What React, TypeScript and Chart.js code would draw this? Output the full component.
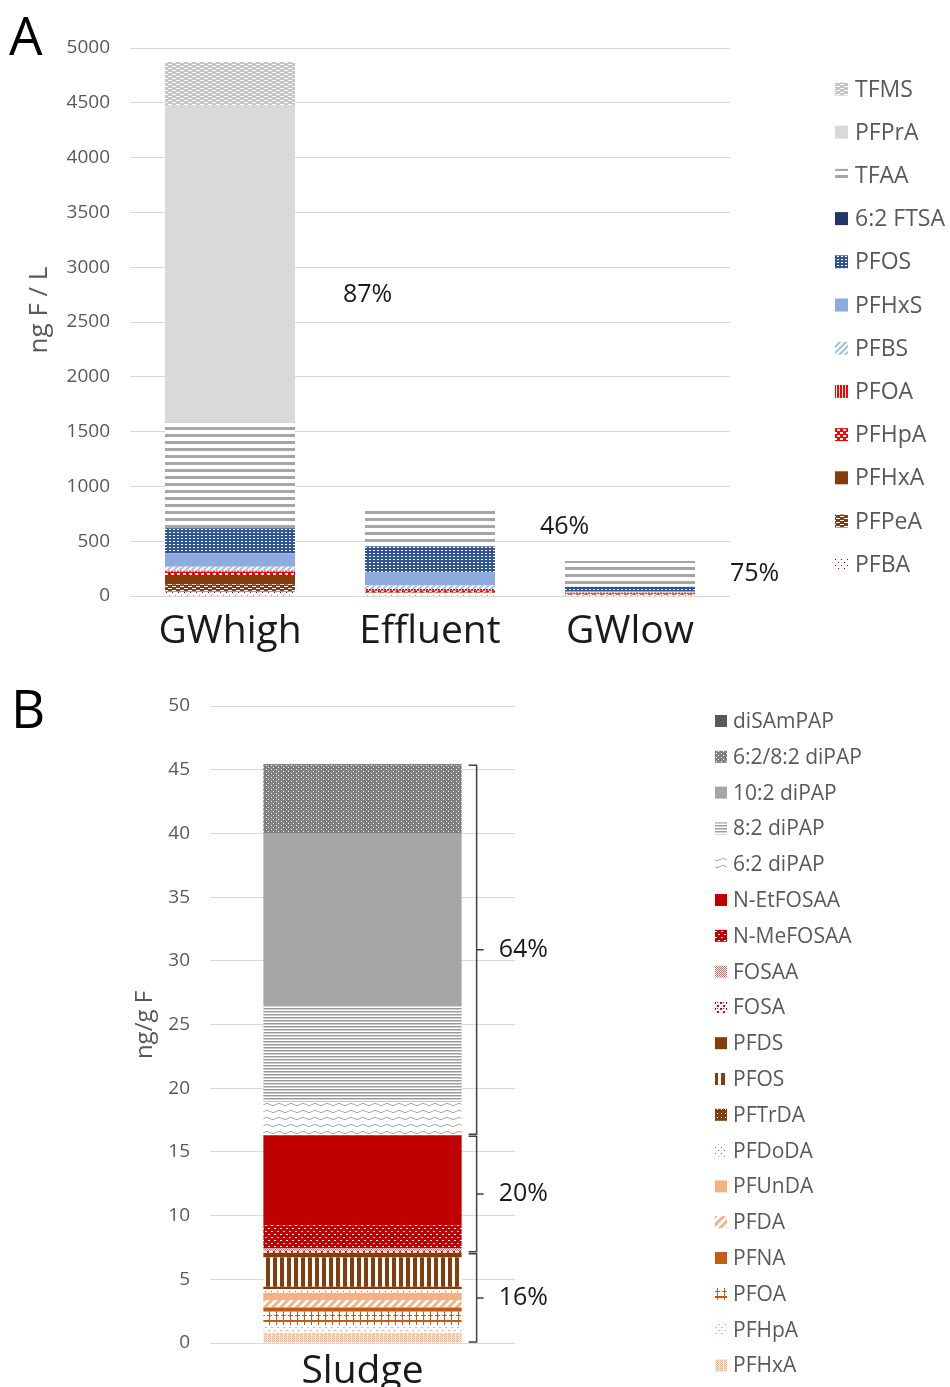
import React, { useEffect, useRef } from "react";
import { Chart, registerables } from "chart.js";
Chart.register(...registerables);

const FONT = "'Open Sans', sans-serif";
const TEXT_GRAY = "#595959";
Chart.defaults.font.family = FONT;

// ---------------- Panel A data (stack order bottom -> top) ----------------
const categoriesA = ["GWhigh", "Effluent", "GWlow"];
const compoundsA = ["PFBA", "PFPeA", "PFHxA", "PFHpA", "PFOA", "PFBS", "PFHxS", "PFOS", "6:2 FTSA", "TFAA", "PFPrA", "TFMS"];
const gwHigh = [39, 67, 85, 30, 10, 36, 122, 228, 3, 961, 2900, 392];
const effluent = [25, 5, 5, 15, 15, 30, 119, 237, 2, 359, 0, 0];
const gwLow = [10, 3, 3, 5, 8, 5, 6, 45, 0, 234, 0, 0];
const ultraShortA = ["TFAA", "PFPrA", "TFMS"];
const shareLabelsA = ["87%", "46%", "75%"];
const yMaxA = 5000;
const yStepA = 500;
const yTitleA = "ng F / L";

// ---------------- Panel B data (stack order bottom -> top) ----------------
const categoriesB = ["Sludge"];
const compoundsB = ["PFHxA", "PFHpA", "PFOA", "PFNA", "PFDA", "PFUnDA", "PFDoDA", "PFTrDA", "PFOS", "PFDS", "FOSA", "FOSAA", "N-MeFOSAA", "N-EtFOSAA", "6:2 diPAP", "8:2 diPAP", "10:2 diPAP", "6:2/8:2 diPAP", "diSAmPAP"];
const sludge = [0.8, 0.6, 1.05, 0.34, 0.58, 0.58, 0.26, 0.2, 2.3, 0.37, 0.15, 0.19, 1.83, 7.06, 2.62, 7.51, 13.6, 5.31, 0.08];
const groupSizesB = [10, 4, 5];
const groupLabelsB = ["16%", "20%", "64%"];
const yMaxB = 50;
const yStepB = 5;
const yTitleB = "ng/g F";

// ---------------- pattern helpers ----------------
type Fill = string | CanvasPattern;
function tile(w: number, h: number, bg: string | null, draw: (c: CanvasRenderingContext2D) => void): CanvasPattern {
  const cv = document.createElement("canvas");
  cv.width = w;
  cv.height = h;
  const c = cv.getContext("2d")!;
  if (bg) {
    c.fillStyle = bg;
    c.fillRect(0, 0, w, h);
  }
  draw(c);
  return c.createPattern(cv, "repeat")!;
}
const rects = (color: string, list: number[][]) => (c: CanvasRenderingContext2D) => {
  c.fillStyle = color;
  list.forEach((r) => c.fillRect(r[0], r[1], r[2], r[3]));
};
const diag = (color: string, s: number, lw: number) => (c: CanvasRenderingContext2D) => {
  c.strokeStyle = color;
  c.lineWidth = lw;
  c.beginPath();
  c.moveTo(0, s);
  c.lineTo(s, 0);
  c.moveTo(-2, 2);
  c.lineTo(2, -2);
  c.moveTo(s - 2, s + 2);
  c.lineTo(s + 2, s - 2);
  c.stroke();
};
const wave = (color: string) => (c: CanvasRenderingContext2D) => {
  c.strokeStyle = color;
  c.lineWidth = 1;
  c.beginPath();
  c.moveTo(0, 3.5);
  c.quadraticCurveTo(3, 1, 6, 3.5);
  c.quadraticCurveTo(9, 6, 12, 3.5);
  c.stroke();
};

function fillsA(): Record<string, Fill> {
  return {
    TFMS: tile(8, 4, "#c4c4c4", rects("#ffffff", [[0, 0, 4, 1], [4, 2, 4, 1]])),
    PFPrA: "#d9d9d9",
    TFAA: tile(4, 7, "#ffffff", rects("#a6a6a6", [[0, 0, 4, 3]])),
    "6:2 FTSA": "#1f3864",
    PFOS: tile(4, 3, "#2f5597", rects("#ffffff", [[1, 1, 2, 1]])),
    PFHxS: "#8faadc",
    PFBS: tile(6, 6, "#ffffff", diag("#9dc3e6", 6, 2)),
    PFOA: tile(3, 4, "#ffffff", rects("#ff0000", [[0, 0, 2, 4]])),
    PFHpA: tile(6, 6, "#ff0000", rects("#ffffff", [[0, 0, 3, 2], [3, 3, 3, 2]])),
    PFHxA: "#843c0c",
    PFPeA: tile(8, 4, "#843c0c", rects("#ffffff", [[0, 0, 4, 1], [4, 2, 4, 1]])),
    PFBA: tile(6, 6, "#ffffff", rects("#c00000", [[1, 1, 1, 1], [4, 4, 1, 1]])),
  };
}

function fillsB(): Record<string, Fill> {
  return {
    diSAmPAP: "#595959",
    "6:2/8:2 diPAP": tile(5, 4, "#7f7f7f", rects("#ffffff", [[1, 1, 1, 1], [3, 3, 1, 1]])),
    "10:2 diPAP": "#a6a6a6",
    "8:2 diPAP": tile(4, 3, "#ffffff", (c) => {
      c.fillStyle = "#9a9a9a";
      c.fillRect(0, 0, 4, 1);
      c.fillStyle = "#cfcfcf";
      c.fillRect(0, 1, 4, 1);
    }),
    "6:2 diPAP": tile(12, 7, "#ffffff", wave("#a6a6a6")),
    "N-EtFOSAA": "#c00000",
    "N-MeFOSAA": tile(6, 6, "#c00000", rects("#ffffff", [[1, 1, 2, 1], [4, 4, 2, 1]])),
    FOSAA: tile(2, 2, "#ffffff", rects("#e06666", [[0, 0, 1, 1], [1, 1, 1, 1]])),
    FOSA: tile(6, 6, "#ffffff", rects("#e00000", [[0, 0, 2, 2], [3, 3, 2, 2], [3, 0, 1, 1]])),
    PFDS: "#843c0c",
    PFOS: tile(7, 4, "#ffffff", rects("#843c0c", [[0, 0, 4, 4]])),
    PFTrDA: tile(4, 4, "#843c0c", rects("#ffffff", [[1, 1, 1, 1]])),
    PFDoDA: tile(6, 6, "#ffffff", rects("#c55a11", [[1, 1, 1, 1], [4, 4, 1, 1]])),
    PFUnDA: "#f4b183",
    PFDA: tile(8, 8, "#ffffff", diag("#f4b183", 8, 3)),
    PFNA: "#c55a11",
    PFOA: tile(7, 12, "#ffffff", rects("#c55a11", [[0, 0, 7, 2], [3, 2, 1, 10], [1, 7, 5, 1]])),
    PFHpA: tile(6, 6, "#ffffff", rects("#f4b183", [[1, 1, 2, 1], [4, 4, 2, 1]])),
    PFHxA: tile(4, 4, "#fbe5d6", rects("#f4b183", [[0, 0, 1, 1], [2, 0, 1, 1], [1, 1, 1, 1], [0, 2, 1, 1], [2, 2, 1, 1], [1, 3, 1, 1]])),
  };
}

const sum = (a: number[]) => a.reduce((s, v) => s + v, 0);

function drawRotated(ctx: CanvasRenderingContext2D, text: string, x: number, y: number, size: number) {
  ctx.save();
  ctx.translate(x, y);
  ctx.rotate(-Math.PI / 2);
  ctx.font = `${size}px ${FONT}`;
  ctx.fillStyle = TEXT_GRAY;
  ctx.textAlign = "center";
  ctx.textBaseline = "middle";
  ctx.fillText(text, 0, 0);
  ctx.restore();
}

export default function App() {
  const refA = useRef<HTMLCanvasElement>(null);
  const refB = useRef<HTMLCanvasElement>(null);

  useEffect(() => {
    const fA = fillsA();
    const fB = fillsB();
    const seriesByCat = [gwHigh, effluent, gwLow];

    const pluginA = {
      id: "annotA",
      afterDraw(chart: any) {
        const ctx = chart.ctx as CanvasRenderingContext2D;
        ctx.save();
        // panel letter
        ctx.fillStyle = "#000";
        ctx.font = `53px ${FONT}`;
        ctx.textBaseline = "alphabetic";
        ctx.textAlign = "left";
        ctx.fillText("A", 9, 55);
        // axis title
        drawRotated(ctx, yTitleA, 40, 310, 26);
        // legend
        const items = [...compoundsA].reverse();
        ctx.font = `23px ${FONT}`;
        ctx.textBaseline = "middle";
        items.forEach((name, i) => {
          const y = 89 + i * 43.2;
          ctx.fillStyle = fA[name] as any;
          ctx.fillRect(835, y - 6.5, 13, 13);
          ctx.fillStyle = TEXT_GRAY;
          ctx.fillText(name, 855, y + 1);
        });
        // share labels
        const ys = chart.scales.y;
        const meta = chart.getDatasetMeta(0);
        const offsets = [48, 45, 35];
        ctx.font = `25px ${FONT}`;
        ctx.fillStyle = "#1a1a1a";
        categoriesA.forEach((_, j) => {
          const vals = seriesByCat[j];
          let lower = 0;
          let upper = 0;
          compoundsA.forEach((n, k) => {
            if (ultraShortA.includes(n)) upper += vals[k];
            else lower += vals[k];
          });
          const el = meta.data[j];
          const xr = el.x + el.width / 2;
          ctx.fillText(shareLabelsA[j], xr + offsets[j], ys.getPixelForValue(lower + upper / 2));
        });
        ctx.restore();
      },
    };

    const chartA = new Chart(refA.current!, {
      type: "bar",
      data: {
        labels: categoriesA,
        datasets: compoundsA.map((name, i) => ({
          label: name,
          data: seriesByCat.map((s) => s[i]),
          backgroundColor: fA[name] as any,
          borderWidth: 0,
          categoryPercentage: 1,
          barPercentage: 0.65,
        })),
      },
      options: {
        animation: false,
        responsive: false,
        maintainAspectRatio: false,
        layout: { padding: { left: 0, right: 220, top: 48, bottom: 0 } },
        plugins: { legend: { display: false }, tooltip: { enabled: false } },
        scales: {
          x: {
            stacked: true,
            grid: { display: false },
            border: { display: false },
            ticks: { font: { size: 39 }, color: "#1a1a1a", padding: 4 },
            afterFit: (s: any) => {
              s.height = 64;
            },
          },
          y: {
            stacked: true,
            min: 0,
            max: yMaxA,
            ticks: { stepSize: yStepA, font: { size: 19 }, color: TEXT_GRAY, padding: 20, callback: (v: any) => String(v) },
            grid: { color: "#d9d9d9", drawTicks: false },
            border: { display: false },
            afterFit: (s: any) => {
              s.width = 130;
            },
          },
        },
      },
      plugins: [pluginA],
    } as any);

    const pluginB = {
      id: "annotB",
      afterDraw(chart: any) {
        const ctx = chart.ctx as CanvasRenderingContext2D;
        ctx.save();
        ctx.fillStyle = "#000";
        ctx.font = `53px ${FONT}`;
        ctx.textBaseline = "alphabetic";
        ctx.textAlign = "left";
        ctx.fillText("B", 11, 68);
        drawRotated(ctx, yTitleB, 145, 365, 24);
        // legend
        const items = [...compoundsB].reverse();
        ctx.font = `21px ${FONT}`;
        ctx.textBaseline = "middle";
        items.forEach((name, i) => {
          const y = 61 + i * 35.8;
          ctx.fillStyle = fB[name] as any;
          ctx.fillRect(715, y - 6, 12, 12);
          ctx.fillStyle = TEXT_GRAY;
          ctx.fillText(name, 733, y + 1);
        });
        // brackets
        const ys = chart.scales.y;
        const el = chart.getDatasetMeta(0).data[0];
        const xb = el.x + el.width / 2 + 15;
        let start = 0;
        let base = 0;
        ctx.strokeStyle = "#404040";
        ctx.lineWidth = 1.5;
        ctx.font = `25px ${FONT}`;
        ctx.fillStyle = "#1a1a1a";
        groupSizesB.forEach((n, g) => {
          const part = sum(sludge.slice(start, start + n));
          const yBot = ys.getPixelForValue(base) - 1;
          const yTop = ys.getPixelForValue(base + part) + 1;
          const yMid = (yTop + yBot) / 2;
          ctx.beginPath();
          ctx.moveTo(xb - 8, yTop);
          ctx.lineTo(xb, yTop);
          ctx.lineTo(xb, yBot);
          ctx.lineTo(xb - 8, yBot);
          ctx.moveTo(xb, yMid);
          ctx.lineTo(xb + 7, yMid);
          ctx.stroke();
          ctx.fillText(groupLabelsB[g], xb + 22, yMid);
          start += n;
          base += part;
        });
        ctx.restore();
      },
    };

    const chartB = new Chart(refB.current!, {
      type: "bar",
      data: {
        labels: categoriesB,
        datasets: compoundsB.map((name, i) => ({
          label: name,
          data: [sludge[i]],
          backgroundColor: fB[name] as any,
          borderWidth: 0,
          categoryPercentage: 1,
          barPercentage: 0.65,
        })),
      },
      options: {
        animation: false,
        responsive: false,
        maintainAspectRatio: false,
        layout: { padding: { left: 0, right: 435, top: 46, bottom: 0 } },
        plugins: { legend: { display: false }, tooltip: { enabled: false } },
        scales: {
          x: {
            stacked: true,
            grid: { display: false },
            border: { display: false },
            ticks: { font: { size: 39 }, color: "#1a1a1a", padding: -3 },
            afterFit: (s: any) => {
              s.height = 44;
            },
          },
          y: {
            stacked: true,
            min: 0,
            max: yMaxB,
            ticks: { stepSize: yStepB, font: { size: 19 }, color: TEXT_GRAY, padding: 20 },
            grid: { color: "#d9d9d9", drawTicks: false },
            border: { display: false },
            afterFit: (s: any) => {
              s.width = 210;
            },
          },
        },
      },
      plugins: [pluginB],
    } as any);

    return () => {
      chartA.destroy();
      chartB.destroy();
    };
  }, []);

  return (
    <div style={{ position: "absolute", left: 0, top: 0, width: 950, height: 1387, background: "#fff", overflow: "hidden" }}>
      <canvas ref={refA} width={950} height={660} style={{ position: "absolute", left: 0, top: 0, width: 950, height: 660 }} />
      <canvas ref={refB} width={950} height={727} style={{ position: "absolute", left: 0, top: 660, width: 950, height: 727 }} />
    </div>
  );
}
